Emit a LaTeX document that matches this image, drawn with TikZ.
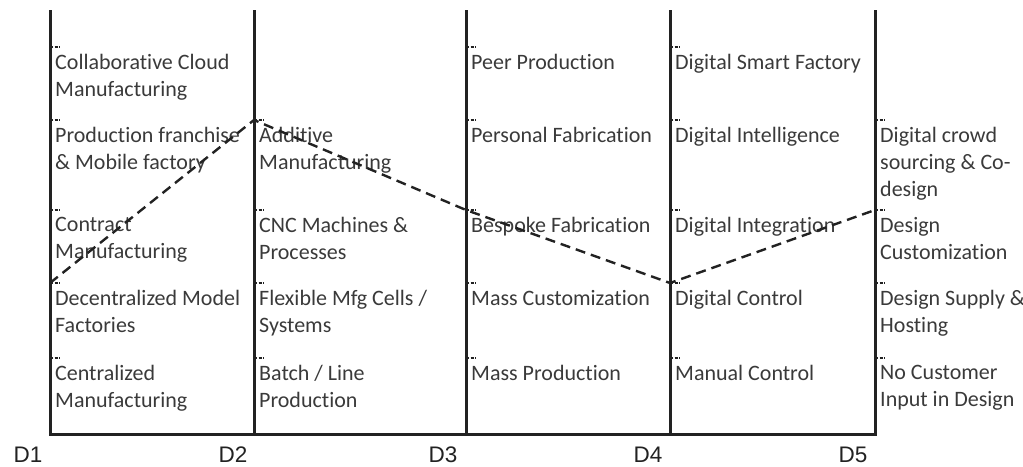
\documentclass[tikz,border=0pt]{standalone}
\usepackage{fontspec}
\setmainfont{Carlito}[Ligatures=NoCommon]
\newfontfamily\dfont{Liberation Sans}
\usepackage{xcolor}
\usetikzlibrary{positioning}
\definecolor{txtgray}{HTML}{3A3A3A}
\definecolor{axisblack}{HTML}{222222}

\begin{document}
\begin{tikzpicture}[x=1pt, y=-1pt,
			axis/.style={line width=3pt, draw=axisblack},
			tickmark/.style={line width=1.1pt, draw=axisblack, dash pattern=on 3pt off 1.5pt},
			lvl/.style={anchor=north west, inner sep=0pt, align=left, text=txtgray,
				font=\fontsize{22}{27}\selectfont},
			dlab/.style={font=\dfont\fontsize{22.5}{26}\selectfont, text=axisblack},
			trail/.style={line width=2.4pt, draw=axisblack, dash pattern=on 10pt off 6pt}]
			
			\useasboundingbox (0,0) rectangle (1023,466);
			
			% axes
			\coordinate (t1) at (50,10);  \coordinate (b1) at (50,434);
			\coordinate (t2) at (254,10); \coordinate (b2) at (254,434);
			\coordinate (t3) at (466,10); \coordinate (b3) at (466,434);
			\coordinate (t4) at (670,10); \coordinate (b4) at (670,434);
			\coordinate (t5) at (875,10); \coordinate (b5) at (875,434);
			\draw[axis] (t1) -- (b1) -- (b5) -- (t5);
			\draw[axis] (t2) -- (b2);
			\draw[axis] (t3) -- (b3);
			\draw[axis] (t4) -- (b4);
			
			\node[dlab] (d1) at (28,455) {D1};
			\node[dlab] (d2) at (233,455) {D2};
			\node[dlab] (d3) at (443,455) {D3};
			\node[dlab] (d4) at (648,455) {D4};
			\node[dlab] (d5) at (853,455) {D5};
			
			% level ticks
			\foreach \x in {50,466,670}
				\draw[tickmark] (\x,47) -- ++(10,0);
			\foreach \x in {50,254,466,670,875}
				\foreach \y in {120,210,283,358}
					\draw[tickmark] (\x,\y) -- ++(10,0);
			
			% column D1
			\node[lvl] (cloud) at (55,54) {Collaborative Cloud\\Manufacturing};
			\node[lvl] (franchise) at (55,127) {Production franchise\\\& Mobile factory};
			\node[lvl] (contract) at (55,217) {Contract\\Manufacturing};
			\node[lvl] (decentral) at (55,290) {Decentralized Model\\Factories};
			\node[lvl] (central) at (55,365) {Centralized\\Manufacturing};
			
			% column D2
			\node[lvl] (additive) at (259,127) {Additive\\Manufacturing};
			\node[lvl] (cnc) at (259,217) {CNC Machines \&\\Processes};
			\node[lvl] (flexible) at (259,290) {Flexible Mfg Cells /\\Systems};
			\node[lvl] (batch) at (259,365) {Batch / Line\\Production};
			
			% column D3
			\node[lvl] (peer) at (471,54) {Peer Production};
			\node[lvl] (personal) at (471,127) {Personal Fabrication};
			\node[lvl] (bespoke) at (471,217) {Bespoke Fabrication};
			\node[lvl] (masscust) at (471,290) {Mass Customization};
			\node[lvl] (massprod) at (471,365) {Mass Production};
			
			% column D4
			\node[lvl] (smart) at (675,54) {Digital Smart Factory};
			\node[lvl] (intel) at (675,127) {Digital Intelligence};
			\node[lvl] (integr) at (675,217) {Digital Integration};
			\node[lvl] (control) at (675,290) {Digital Control};
			\node[lvl] (manual) at (675,365) {Manual Control};
			
			% column D5
			\node[lvl] (crowd) at (880,127) {Digital crowd\\sourcing \& Co-\\design};
			\node[lvl] (designcust) at (880,217) {Design\\Customization};
			\node[lvl] (supply) at (880,290) {Design Supply \&\\Hosting};
			\node[lvl] (noinput) at (880,365) {No Customer\\Input in Design};
			
			% profile
			\coordinate (p1) at (50,283);
			\coordinate (p2) at (254,120);
			\coordinate (p3) at (466,210);
			\coordinate (p4) at (670,283);
			\coordinate (p5) at (875,210);
			\draw[trail] (p1) -- (p2) -- (p3) -- (p4) -- (p5);
		\end{tikzpicture}
\end{document}
